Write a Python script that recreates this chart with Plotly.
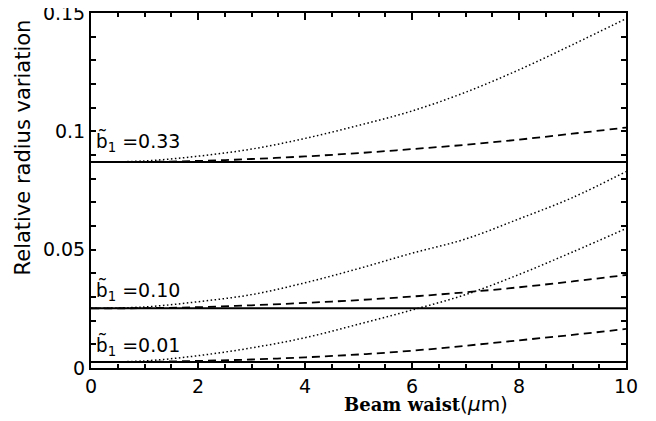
import plotly.graph_objects as go

x = [0, 1, 2, 3, 4, 5, 6, 7, 8, 9, 10]

# b1 = 0.33
solid_033 = [0.087] * 11
dashed_033 = [0.087, 0.0871, 0.0875, 0.0883, 0.0894, 0.0908, 0.0925, 0.0943, 0.0965, 0.099, 0.1016]
dotted_033 = [0.087, 0.0875, 0.0895, 0.0925, 0.097, 0.1025, 0.1086, 0.1165, 0.126, 0.1366, 0.1476]

# b1 = 0.10
solid_010 = [0.0252] * 11
dashed_010 = [0.0252, 0.0253, 0.0257, 0.0265, 0.0275, 0.0287, 0.0302, 0.032, 0.0341, 0.0366, 0.0393]
dotted_010 = [0.0252, 0.0258, 0.028, 0.031, 0.036, 0.042, 0.0485, 0.0545, 0.063, 0.072, 0.083]

# b1 = 0.01
solid_001 = [0.0025] * 11
dashed_001 = [0.0025, 0.0026, 0.003, 0.0036, 0.0045, 0.0057, 0.0073, 0.0094, 0.0117, 0.014, 0.0165]
dotted_001 = [0.0025, 0.003, 0.0052, 0.0085, 0.0128, 0.0185, 0.0245, 0.031, 0.0395, 0.049, 0.0589]

labels = ["0.33", "0.10", "0.01"]
label_y = [0.0955, 0.0326, 0.0095]

y_tickvals = [0, 0.05, 0.1, 0.15]
y_ticktext = ["0", "0.05", "0.1", "0.15"]
x_tickvals = [0, 2, 4, 6, 8, 10]
x_ticktext = ["0", "2", "4", "6", "8", "10"]

fig = go.Figure()
for s, d, t in [(solid_033, dashed_033, dotted_033),
                (solid_010, dashed_010, dotted_010),
                (solid_001, dashed_001, dotted_001)]:
    fig.add_trace(go.Scatter(x=x, y=s, mode="lines", line=dict(color="black", width=2)))
    fig.add_trace(go.Scatter(x=x, y=d, mode="lines", line=dict(color="black", width=1.8, dash="8px,5px", shape="spline")))
    fig.add_trace(go.Scatter(x=x, y=t, mode="lines", line=dict(color="black", width=1.5, dash="1.5px,2.5px", shape="spline")))

for lab, ly in zip(labels, label_y):
    fig.add_annotation(x=0.06, y=ly, xref="x", yref="y", xanchor="left", yanchor="middle",
                       text="<span style='font-family:Noto Sans'>b\u0303</span><sub>1</sub> =" + lab,
                       showarrow=False,
                       font=dict(family="DejaVu Sans", size=19, color="black"))

fig.add_annotation(x=6.27, y=-0.10, xref="x", yref="paper", xanchor="center", yanchor="middle",
                   text="<b>Beam waist</b><span style='font-family:DejaVu Sans;font-size:20px'>(<i>\u03bc</i>m)</span>",
                   showarrow=False,
                   font=dict(family="DejaVu Serif", size=18, color="black"))
fig.add_annotation(x=-0.128, y=0.62, xref="paper", yref="paper", xanchor="center", yanchor="middle",
                   text="Relative radius variation", textangle=-90, showarrow=False,
                   font=dict(family="DejaVu Sans", size=21, color="black"))

fig.update_layout(
    width=656, height=421,
    margin=dict(l=83, r=38, t=5, b=61),
    paper_bgcolor="white", plot_bgcolor="white",
    showlegend=False,
    font=dict(family="DejaVu Sans", size=19, color="black"),
)
fig.update_xaxes(range=[0, 10], tickvals=x_tickvals, ticktext=x_ticktext, automargin=False,
                 ticklabeloverflow="allow",
                 ticks="inside", ticklen=7, tickwidth=2, tickcolor="black",
                 minor=dict(dtick=0.5, ticks="inside", ticklen=4, tickwidth=1.5, tickcolor="black"),
                 showline=True, linewidth=2, linecolor="black", mirror="allticks",
                 showgrid=False, zeroline=False)
fig.update_yaxes(range=[0, 0.15], tickvals=y_tickvals, ticktext=y_ticktext, automargin=False,
                 ticklabeloverflow="allow",
                 ticks="inside", ticklen=5, tickwidth=1.5, tickcolor="black",
                 minor=dict(dtick=0.01, ticks="inside", ticklen=5, tickwidth=1.5, tickcolor="black"),
                 showline=True, linewidth=2, linecolor="black", mirror="allticks",
                 showgrid=False, zeroline=False)

fig.write_html("out.html")
